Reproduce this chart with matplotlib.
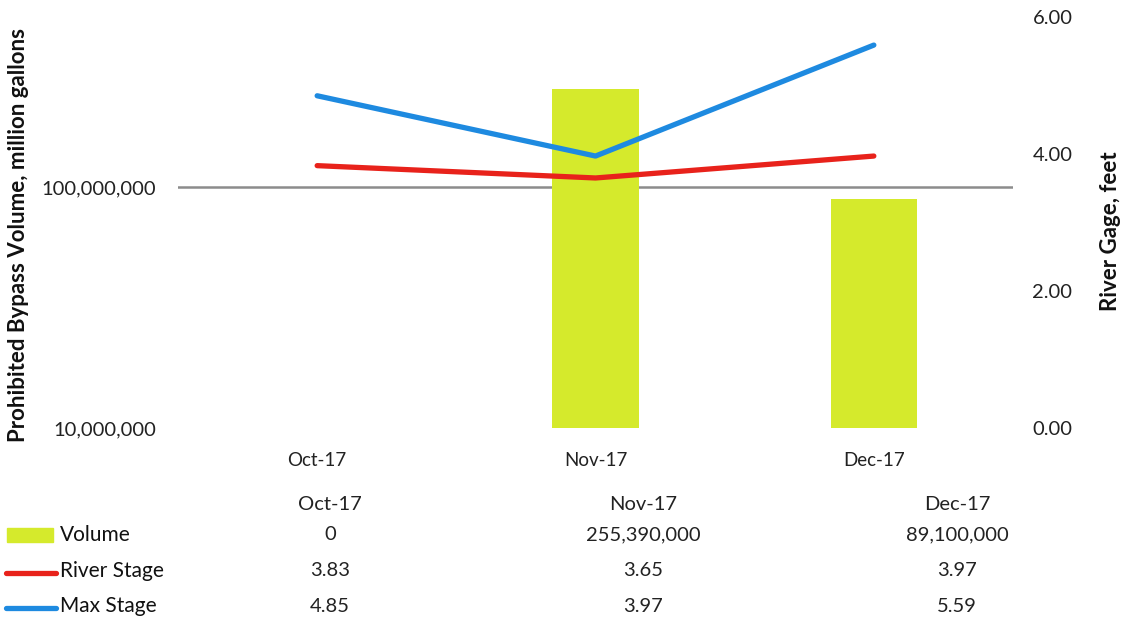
import matplotlib.pyplot as plt
from matplotlib.lines import Line2D
from matplotlib.patches import Rectangle
from matplotlib.ticker import FixedLocator, FuncFormatter

plt.rcParams['font.family'] = ['Lato', 'DejaVu Sans']

# data
months = ['Oct-17', 'Nov-17', 'Dec-17']
volume = [0, 255390000, 89100000]
river_stage = [3.83, 3.65, 3.97]
max_stage = [4.85, 3.97, 5.59]
volume_labels = ['0', '255,390,000', '89,100,000']

bar_color = '#d5ea2c'
red = '#e8221b'
blue = '#1e8ae0'
W, H = 1124, 621

fig = plt.figure(figsize=(W / 100, H / 100), dpi=100)
ax = fig.add_axes([178 / W, 193 / H, 835 / W, 411 / H])
x = list(range(len(months)))

# bars on log axis (zero can't show)
bar_vals = [v if v > 0 else 1 for v in volume]
ax.bar(x, bar_vals, width=0.31, color=bar_color, zorder=3)
ax.set_yscale('log')
ax.set_ylim(1e7, 5.07e8)
ax.set_xlim(-0.5, 2.5)
ax.yaxis.set_major_locator(FixedLocator([1e7, 1e8]))
ax.yaxis.set_minor_locator(FixedLocator([]))
ax.yaxis.set_major_formatter(FuncFormatter(lambda v, p: f'{v:,.0f}'))
ax.axhline(1e8, color='#8c8c8c', lw=1.8, zorder=1)
ax.set_xticks(x)
ax.set_xticklabels(months, fontsize=13.5, color='#222222')
ax.tick_params(axis='y', labelsize=14.5, labelcolor='#222222', length=0, pad=16)
ax.tick_params(axis='x', length=0, pad=17)
for s in ax.spines.values():
    s.set_visible(False)
ax.set_ylabel('Prohibited Bypass Volume, million gallons', fontsize=16,
              fontweight='bold', color='#111111')
ax.yaxis.set_label_coords(-0.178, 0.47)

ax2 = ax.twinx()
ax2.plot(x, river_stage, color=red, lw=3.8, zorder=4, solid_capstyle='round')
ax2.plot(x, max_stage, color=blue, lw=3.8, zorder=4, solid_capstyle='round')
ax2.set_ylim(0, 6)
ax2.set_yticks([0, 2, 4, 6])
ax2.yaxis.set_major_formatter(FuncFormatter(lambda v, p: f'{v:.2f}'))
ax2.tick_params(axis='y', labelsize=14.5, labelcolor='#222222', length=0, pad=14)
for s in ax2.spines.values():
    s.set_visible(False)
ax2.set_ylabel('River Gage, feet', fontsize=16, fontweight='bold', color='#111111')
ax2.yaxis.set_label_coords(1.104, 0.48)

# data table below chart
col_x = [330, 643, 957]
row_y = [535, 571, 606]
for cx, m in zip(col_x, months):
    fig.text(cx / W, 1 - 504 / H, m, ha='center', va='center', fontsize=14.5, color='#222222')
rows = [volume_labels,
        [f'{v:.2f}' for v in river_stage],
        [f'{v:.2f}' for v in max_stage]]
for ry, vals in zip(row_y, rows):
    for cx, v in zip(col_x, vals):
        fig.text(cx / W, 1 - ry / H, v, ha='center', va='center', fontsize=14.5, color='#222222')

names = ['Volume', 'River Stage', 'Max Stage']
for ry, name in zip(row_y, names):
    fig.text(60 / W, 1 - ry / H, name, ha='left', va='center', fontsize=15, color='#111111')
fig.add_artist(Rectangle((7 / W, 1 - 542 / H), 46 / W, 14 / H,
                         transform=fig.transFigure, color=bar_color))
for ry, c in zip(row_y[1:], [red, blue]):
    fig.add_artist(Line2D([6 / W, 56 / W], [1 - (ry + 2) / H] * 2,
                          transform=fig.transFigure, color=c, lw=3.8,
                          solid_capstyle='round'))

fig.savefig('out.png', dpi=100)
